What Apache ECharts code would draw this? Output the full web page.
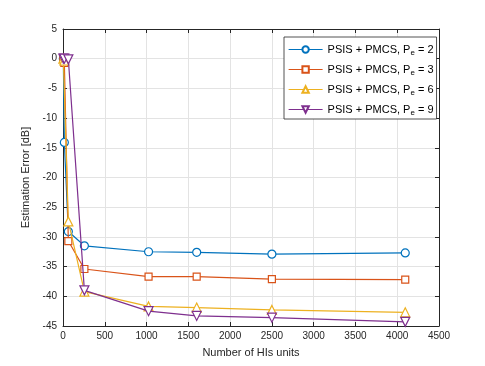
<!DOCTYPE html>
<html>
<head>
<meta charset="utf-8">
<script src="https://cdn.jsdelivr.net/npm/echarts@6/dist/echarts.min.js"></script>
<style>
  html, body { margin: 0; padding: 0; background: #fff; }
  #chart { width: 485px; height: 366px; }
</style>
</head>
<body>
<div id="chart"></div>
<script>
// number of HI units (x)
const units = [4, 16, 64, 256, 1024, 1600, 2500, 4096]
const peLabels = ['2', '3', '6', '9']
const errPe2 = [0, -14.1, -29.1, -31.5, -32.5, -32.6, -32.9, -32.7]
const errPe3 = [0, -0.7, -30.7, -35.4, -36.7, -36.7, -37.1, -37.2]
const errPe6 = [0, -0.3, -27.4, -39.2, -41.7, -41.9, -42.3, -42.7]
const errPe9 = [0, 0, -0.1, -39.0, -42.5, -43.3, -43.6, -44.3]

const colors = ['#0072BD', '#D95319', '#EDB120', '#7E2F8E']
const symbols = ['circle', 'rect', 'triangle', 'path://M0,0 L10,0 L5,8.66 Z']
const symbolSizes = [8, 7, 9, 9]
const allErr = [errPe2, errPe3, errPe6, errPe9]

const axisColor = '#262626'
const font = 'Liberation Sans'

const pair = (ys) => units.map((x, i) => [x, ys[i]])

const series = allErr.map((ys, k) => ({
  name: 'PSIS + PMCS, P' + peLabels[k],
  type: 'line',
  data: pair(ys),
  symbol: symbols[k],
  symbolSize: symbolSizes[k],
  clip: false,
  lineStyle: { color: colors[k], width: 1.2 },
  itemStyle: { color: '#fff', borderColor: colors[k], borderWidth: 1.2 },
  emphasis: { disabled: true },
  z: 3 + k
}))

const tickInside = { show: true, inside: true, length: 4, lineStyle: { color: axisColor } }

const option = {
  animation: false,
  backgroundColor: '#fff',
  grid: { left: 63, right: 46, top: 29, bottom: 40 },
  legend: {
    orient: 'vertical',
    left: 284,
    top: 37,
    padding: [7, 3, 2, 4],
    backgroundColor: '#fff',
    borderColor: axisColor,
    borderWidth: 0.8,
    itemWidth: 34,
    itemHeight: 8,
    itemGap: 7,
    lineStyle: { width: 1.2 },
    formatter(name) {
      const pe = name.slice(name.length - 1)
      return '{a|PSIS + PMCS, P}{s|e}{a| = ' + pe + '}'
    },
    textStyle: {
      fontFamily: font,
      fontSize: 11,
      color: '#000',
      rich: {
        a: { fontFamily: font, fontSize: 11, color: '#000' },
        s: { fontFamily: font, fontSize: 8, color: '#000', padding: [7, 0, 0, 0] }
      }
    }
  },
  xAxis: [{
    type: 'value',
    min: 0, max: 4500, interval: 500,
    name: 'Number of HIs units',
    nameLocation: 'middle',
    nameGap: 21,
    nameTextStyle: { fontFamily: font, fontSize: 11, color: axisColor },
    axisLine: { show: true, onZero: false, lineStyle: { color: axisColor } },
    axisTick: tickInside,
    axisLabel: { fontFamily: font, fontSize: 10, color: axisColor, margin: 5, formatter: (v) => String(v) },
    splitLine: { show: true, lineStyle: { color: '#e3e3e3' } }
  }, {
    type: 'value', position: 'top',
    min: 0, max: 4500, interval: 500,
    axisLine: { show: true, onZero: false, lineStyle: { color: axisColor } },
    axisTick: tickInside,
    axisLabel: { show: false },
    splitLine: { show: false }
  }],
  yAxis: [{
    type: 'value',
    min: -45, max: 5, interval: 5,
    name: 'Estimation Error [dB]',
    nameLocation: 'middle',
    nameGap: 30,
    nameTextStyle: { fontFamily: font, fontSize: 11, color: axisColor },
    axisLine: { show: true, onZero: false, lineStyle: { color: axisColor } },
    axisTick: tickInside,
    axisLabel: { fontFamily: font, fontSize: 10, color: axisColor, margin: 6 },
    splitLine: { show: true, lineStyle: { color: '#e3e3e3' } }
  }, {
    type: 'value', position: 'right',
    min: -45, max: 5, interval: 5,
    axisLine: { show: true, onZero: false, lineStyle: { color: axisColor } },
    axisTick: tickInside,
    axisLabel: { show: false },
    splitLine: { show: false }
  }],
  series: series
}

const myChart = echarts.init(document.getElementById('chart'), null, { renderer: 'canvas' })
myChart.setOption(option)
</script>
</body>
</html>
